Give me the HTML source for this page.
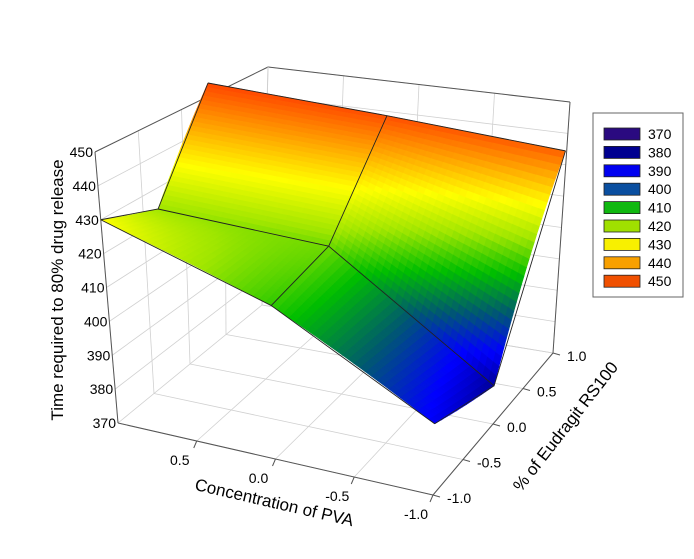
<!DOCTYPE html>
<html><head><meta charset="utf-8"><style>
body{margin:0;background:#fff;}
svg{display:block;font-family:"Liberation Sans",Arial,sans-serif;}
</style></head><body>
<svg id="chart" width="694" height="559" viewBox="0 0 694 559">
<g id="frame"></g>
<g id="surface"></g>
<g id="mesh"></g>
<g id="labels"></g>
<text x="0" y="0" font-size="17" text-anchor="middle" transform="translate(63,290) rotate(-90)">Time required to 80% drug release</text>
<text x="0" y="0" font-size="17" text-anchor="middle" transform="translate(273,508) rotate(13)">Concentration of PVA</text>
<text x="0" y="0" font-size="17" text-anchor="middle" transform="translate(570,430) rotate(-52)">% of Eudragit RS100</text>
<g>
<rect x="593" y="113" width="90" height="184" fill="#fff" stroke="#666" stroke-width="1"/>
<g id="legend-items"></g>
</g>
</svg>
<script>
const pvaLevels=[1,0,-1];
const eudLevels=[-1,0,1];
const zRow_pva1=[430,420,450];
const zRow_pva0=[413,417,449];
const zRow_pvaM1=[389,382,447];
const legendValues=[370,380,390,400,410,420,430,440,450];
const legendColors=["#2a0a80","#000090","#0000f0","#0a4fa0","#10b810","#a0e000","#f8f000","#f8a000","#f05000"];
const zTicks=[370,380,390,400,410,420,430,440,450];
const pvaTicks=["0.5","0.0","-0.5","-1.0"];
const pvaTickVals=[0.5,0,-0.5,-1];
const eudTicks=["-1.0","-0.5","0.0","0.5","1.0"];
const eudTickVals=[-1,-0.5,0,0.5,1];

const NS="http://www.w3.org/2000/svg";
const zGrid=[zRow_pva1,zRow_pva0,zRow_pvaM1];
function mk(tag,attrs,parent){const e=document.createElementNS(NS,tag);for(const k in attrs)e.setAttribute(k,attrs[k]);parent.appendChild(e);return e;}
function lerp(a,b,t){return [a[0]+(b[0]-a[0])*t,a[1]+(b[1]-a[1])*t];}
function bil(c00,c10,c11,c01,u,v){return lerp(lerp(c00,c10,u),lerp(c01,c11,u),v);}

const dF={a:[118,423],b:[433,495],c:[552,353],d:[220,300]};
const dT={a:[95,152],b:[440,195],c:[566,143],d:[208,83]};
function proj(P,E,z){const u=(1-P)/2,v=(E+1)/2;
 const f=bil(dF.a,dF.b,dF.c,dF.d,u,v),t=bil(dT.a,dT.b,dT.c,dT.d,u,v);
 return lerp(f,t,(z-370)/80);}
const fF={a:[118,423],b:[433,495],c:[553,353],d:[262,305]};
const fT={a:[95,152],b:[440,200],c:[570,102],d:[268,67]};
function fproj(P,E,z){const u=(1-P)/2,v=(E+1)/2;
 const f=bil(fF.a,fF.b,fF.c,fF.d,u,v),t=bil(fT.a,fT.b,fT.c,fT.d,u,v);
 return lerp(f,t,(z-370)/80);}

const cstops=[[370,[40,10,128]],[380,[0,0,128]],[390,[0,0,255]],[400,[0,90,110]],[410,[0,190,0]],[420,[160,230,0]],[430,[255,255,0]],[440,[255,160,0]],[450,[255,70,0]]];
function color(z){z=Math.max(370,Math.min(450,z));for(let i=0;i<cstops.length-1;i++){const a=cstops[i],b=cstops[i+1];if(z<=b[0]){const t=(z-a[0])/(b[0]-a[0]);const c=a[1].map((x,j)=>Math.round(x+(b[1][j]-x)*t));return `rgb(${c})`;}}return "rgb(255,70,0)";}

const frame=document.getElementById('frame');
const gridC="#d0d0d0";
function line(g,p,q,col,w,name){const l=mk('line',{x1:p[0],y1:p[1],x2:q[0],y2:q[1],stroke:col,'stroke-width':w},g);
 
 }
zTicks.forEach(z=>{line(frame,fproj(1,-1,z),fproj(1,1,z),gridC,0.8,'left-wall-gridline');line(frame,fproj(1,1,z),fproj(-1,1,z),gridC,0.8,'back-wall-gridline');});
pvaTickVals.forEach(p=>{line(frame,fproj(p,-1,370),fproj(p,1,370),gridC,0.8,'floor-gridline');line(frame,fproj(p,1,370),fproj(p,1,450),gridC,0.8,'back-wall-gridline');});
eudTickVals.forEach(e=>{line(frame,fproj(1,e,370),fproj(-1,e,370),gridC,0.8,'floor-gridline');line(frame,fproj(1,e,370),fproj(1,e,450),gridC,0.8,'left-wall-gridline');});
const ax="#555";
line(frame,fproj(1,-1,370),fproj(-1,-1,370),ax,1,'x-axis-line');
line(frame,fproj(-1,-1,370),fproj(-1,1,370),ax,1,'y-axis-line');
line(frame,fproj(1,-1,370),fproj(1,-1,450),ax,1,'z-axis-line');
line(frame,fproj(1,-1,450),fproj(1,1,450),ax,1,'box-edge');
line(frame,fproj(1,1,450),fproj(-1,1,450),ax,1,'box-edge');
line(frame,fproj(-1,1,450),fproj(-1,1,370),ax,1,'box-edge');
line(frame,fproj(1,1,370),fproj(1,1,450),gridC,1,'box-edge');

const surf=document.getElementById('surface');
const N=28,cells=[];
for(let i=0;i<2;i++)for(let j=0;j<2;j++){
 const z00=zGrid[i][j],z10=zGrid[i+1][j],z01=zGrid[i][j+1],z11=zGrid[i+1][j+1];
 const P0=pvaLevels[i],P1=pvaLevels[i+1],E0=eudLevels[j],E1=eudLevels[j+1];
 for(let a=0;a<N;a++)for(let b=0;b<N;b++){
  const pts=[[a,b],[a+1,b],[a+1,b+1],[a,b+1]].map(([s,t])=>{s/=N;t/=N;
   const z=z00*(1-s)*(1-t)+z10*s*(1-t)+z11*s*t+z01*(1-s)*t;
   return {p:proj(P0+(P1-P0)*s,E0+(E1-E0)*t,z),z};});
  const P=P0+(P1-P0)*(a+.5)/N,E=E0+(E1-E0)*(b+.5)/N;
  cells.push({pts,depth:P+E,z:pts.reduce((s,q)=>s+q.z,0)/4});
 }}
cells.sort((x,y)=>y.depth-x.depth);
cells.forEach(c=>{const col=color(c.z);
 const pg=mk('polygon',{points:c.pts.map(q=>q.p.map(v=>v.toFixed(1)).join(',')).join(' '),fill:col,stroke:col,'stroke-width':0.6},surf);
 
 });

const mesh=document.getElementById('mesh');
function meshLine(pts){const pl=mk('polyline',{points:pts.map(p=>p.join(',')).join(' '),fill:'none',stroke:'#222','stroke-width':0.9},mesh);
 
 }
for(let i=0;i<3;i++)meshLine(eudLevels.map((e,j)=>proj(pvaLevels[i],e,zGrid[i][j])));
for(let j=0;j<3;j++)meshLine(pvaLevels.map((p,i)=>proj(p,eudLevels[j],zGrid[i][j])));

const lab=document.getElementById('labels');
zTicks.forEach(z=>{const p=fproj(1,-1,z);
 const t=mk('text',{x:p[0]-2,y:p[1]+5,'font-size':14,'text-anchor':'end'},lab);t.textContent=z;
 
 });
pvaTickVals.forEach((v,k)=>{const p=fproj(v,-1,370);
 line(lab,p,[p[0]-3,p[1]+7],ax,1,'x-tick');
 const t=mk('text',{x:p[0]-17,y:p[1]+24,'font-size':14,'text-anchor':'middle'},lab);t.textContent=pvaTicks[k];
 
 });
eudTickVals.forEach((v,k)=>{const p=fproj(-1,v,370);
 line(lab,p,[p[0]+7,p[1]+2],ax,1,'y-tick');
 const t=mk('text',{x:p[0]+14,y:p[1]+8,'font-size':14,'text-anchor':'start'},lab);t.textContent=eudTicks[k];
 
 });

const lg=document.getElementById('legend-items');
legendValues.forEach((v,k)=>{const y=128+k*18.4;
 const r=mk('rect',{x:604,y:y,width:36,height:12,fill:legendColors[k],stroke:'#222','stroke-width':0.8},lg);
 
 
 const t=mk('text',{x:648,y:y+11,'font-size':14},lg);t.textContent=v;
 
 });
</script>
</body></html>
